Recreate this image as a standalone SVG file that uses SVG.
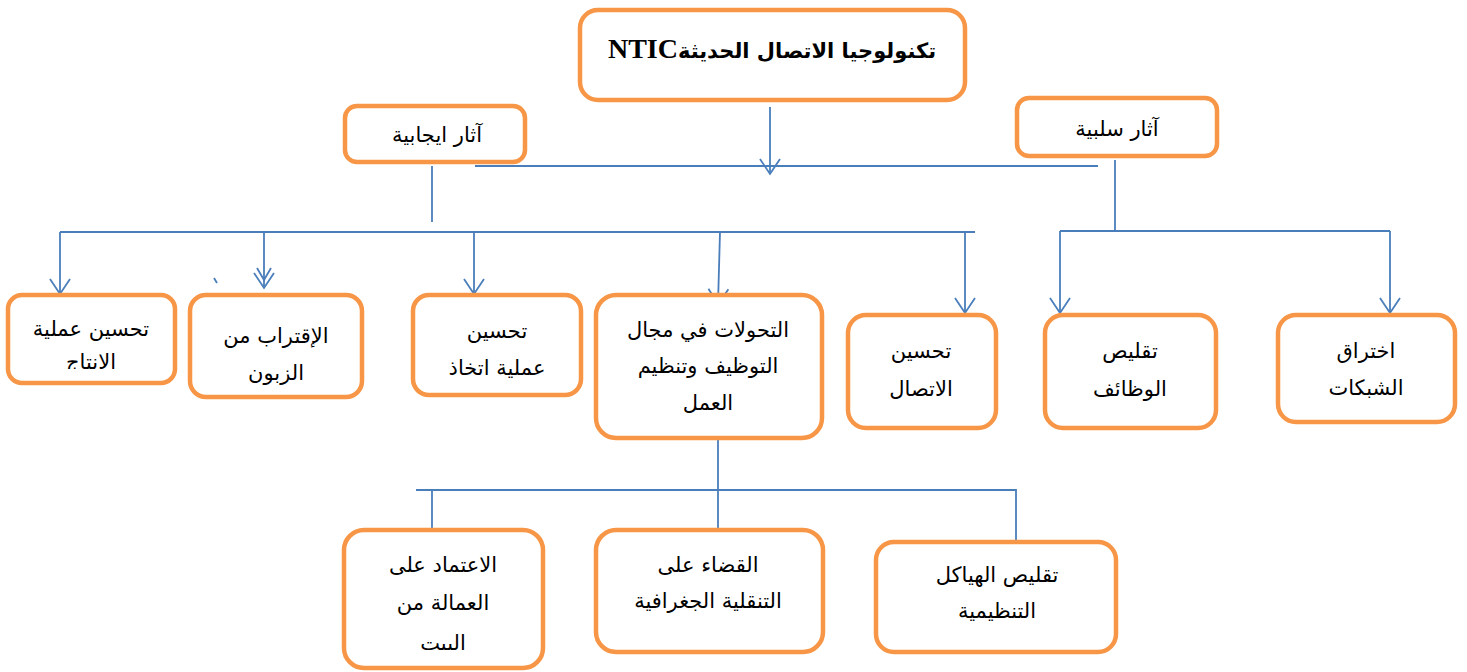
<svg xmlns="http://www.w3.org/2000/svg" width="1467" height="672" viewBox="0 0 1467 672">
<style>
.box{fill:#fff;stroke:#F79646;stroke-width:4.5}
.t{font-family:"DejaVu Sans","Liberation Sans",sans-serif;font-size:21px;fill:#000;text-anchor:middle;direction:rtl}
.title{font-family:"DejaVu Sans","Liberation Serif",serif;font-size:21px;font-weight:bold;fill:#000;text-anchor:middle;direction:rtl}
.lat{font-family:"Liberation Serif",serif;font-size:28px;font-weight:bold}
.c{fill:none;stroke:#4A7EBB;stroke-width:1.8}
</style>
<defs>
<marker id="ah" markerUnits="userSpaceOnUse" viewBox="-16 -11 18 22" refX="0" refY="0" markerWidth="18" markerHeight="22" orient="auto">
<path d="M-15,-10 L0,0 L-15,10" fill="none" stroke="#4A7EBB" stroke-width="1.8"/>
</marker>
<clipPath id="clipA"><rect x="0" y="290" width="190" height="79"/></clipPath>
<clipPath id="clipH"><rect x="330" y="520" width="230" height="131"/></clipPath>
</defs>

<g id="connectors">
<path class="c" d="M770,107 V174" marker-end="url(#ah)"/>
<path class="c" d="M475,166 H1098"/>
<path class="c" d="M432,166 V222"/>
<path class="c" d="M60,232 H975"/>
<path class="c" d="M60,232 V294" marker-end="url(#ah)"/>
<path class="c" d="M264,232 V288" marker-end="url(#ah)"/>
<path class="c" d="M257,268 L264,280 L271,268"/>
<path class="c" d="M214,278 L217,283"/>
<path class="c" d="M474,232 V294" marker-end="url(#ah)"/>
<path class="c" d="M720,232 L718,304" marker-end="url(#ah)"/>
<path class="c" d="M965,232 V313" marker-end="url(#ah)"/>
<path class="c" d="M1115,160 V231"/>
<path class="c" d="M1060,231 H1390"/>
<path class="c" d="M1060,231 V313" marker-end="url(#ah)"/>
<path class="c" d="M1390,231 V313" marker-end="url(#ah)"/>
<path class="c" d="M718,438 V530"/>
<path class="c" d="M416,490 H1016 V542"/>
<path class="c" d="M432,490 V542"/>
</g>

<g id="n-title">
<rect class="box" x="580" y="10" width="385" height="90" rx="18"/>
<text class="title" x="772" y="58"><tspan>تكنولوجيا الاتصال الحديثة</tspan><tspan class="lat">NTIC</tspan></text>
</g>
<g id="n-positive">
<rect class="box" x="345" y="106" width="180" height="56" rx="12"/>
<text class="t" x="437" y="142">آثار ايجابية</text>
</g>
<g id="n-negative">
<rect class="box" x="1017" y="98" width="200" height="58" rx="12"/>
<text class="t" x="1117" y="136">آثار سلبية</text>
</g>
<g id="n-production">
<rect class="box" x="8" y="295" width="167" height="88" rx="14"/>
<text class="t" x="91" y="336">تحسين عملية</text>
<text class="t" x="91" y="369" clip-path="url(#clipA)">الانتاج</text>
</g>
<g id="n-customer">
<rect class="box" x="190" y="295" width="172" height="102" rx="16"/>
<text class="t" x="276" y="343">الإقتراب من</text>
<text class="t" x="276" y="380">الزبون</text>
</g>
<g id="n-decision">
<rect class="box" x="413" y="295" width="168" height="100" rx="16"/>
<text class="t" x="497" y="338">تحسين</text>
<text class="t" x="497" y="375">عملية اتخاذ</text>
</g>
<g id="n-transform">
<rect class="box" x="596" y="295" width="226" height="143" rx="20"/>
<text class="t" x="708" y="337">التحولات في مجال</text>
<text class="t" x="708" y="373">التوظيف وتنظيم</text>
<text class="t" x="708" y="410">العمل</text>
</g>
<g id="n-communication">
<rect class="box" x="848" y="315" width="148" height="113" rx="18"/>
<text class="t" x="921" y="358">تحسين</text>
<text class="t" x="921" y="396">الاتصال</text>
</g>
<g id="n-jobs">
<rect class="box" x="1045" y="315" width="171" height="113" rx="18"/>
<text class="t" x="1130" y="358">تقليص</text>
<text class="t" x="1130" y="396">الوظائف</text>
</g>
<g id="n-networks">
<rect class="box" x="1278" y="315" width="177" height="107" rx="18"/>
<text class="t" x="1366" y="358">اختراق</text>
<text class="t" x="1366" y="395">الشبكات</text>
</g>
<g id="n-home">
<rect class="box" x="344" y="530" width="199" height="138" rx="20"/>
<text class="t" x="443" y="572">الاعتماد على</text>
<text class="t" x="443" y="610">العمالة من</text>
<text class="t" x="443" y="650" clip-path="url(#clipH)">البيت</text>
</g>
<g id="n-mobility">
<rect class="box" x="596" y="530" width="227" height="122" rx="20"/>
<text class="t" x="708" y="572">القضاء على</text>
<text class="t" x="708" y="608">التنقلية الجغرافية</text>
</g>
<g id="n-structures">
<rect class="box" x="876" y="542" width="240" height="110" rx="18"/>
<text class="t" x="997" y="582">تقليص الهياكل</text>
<text class="t" x="997" y="618">التنظيمية</text>
</g>
</svg>
